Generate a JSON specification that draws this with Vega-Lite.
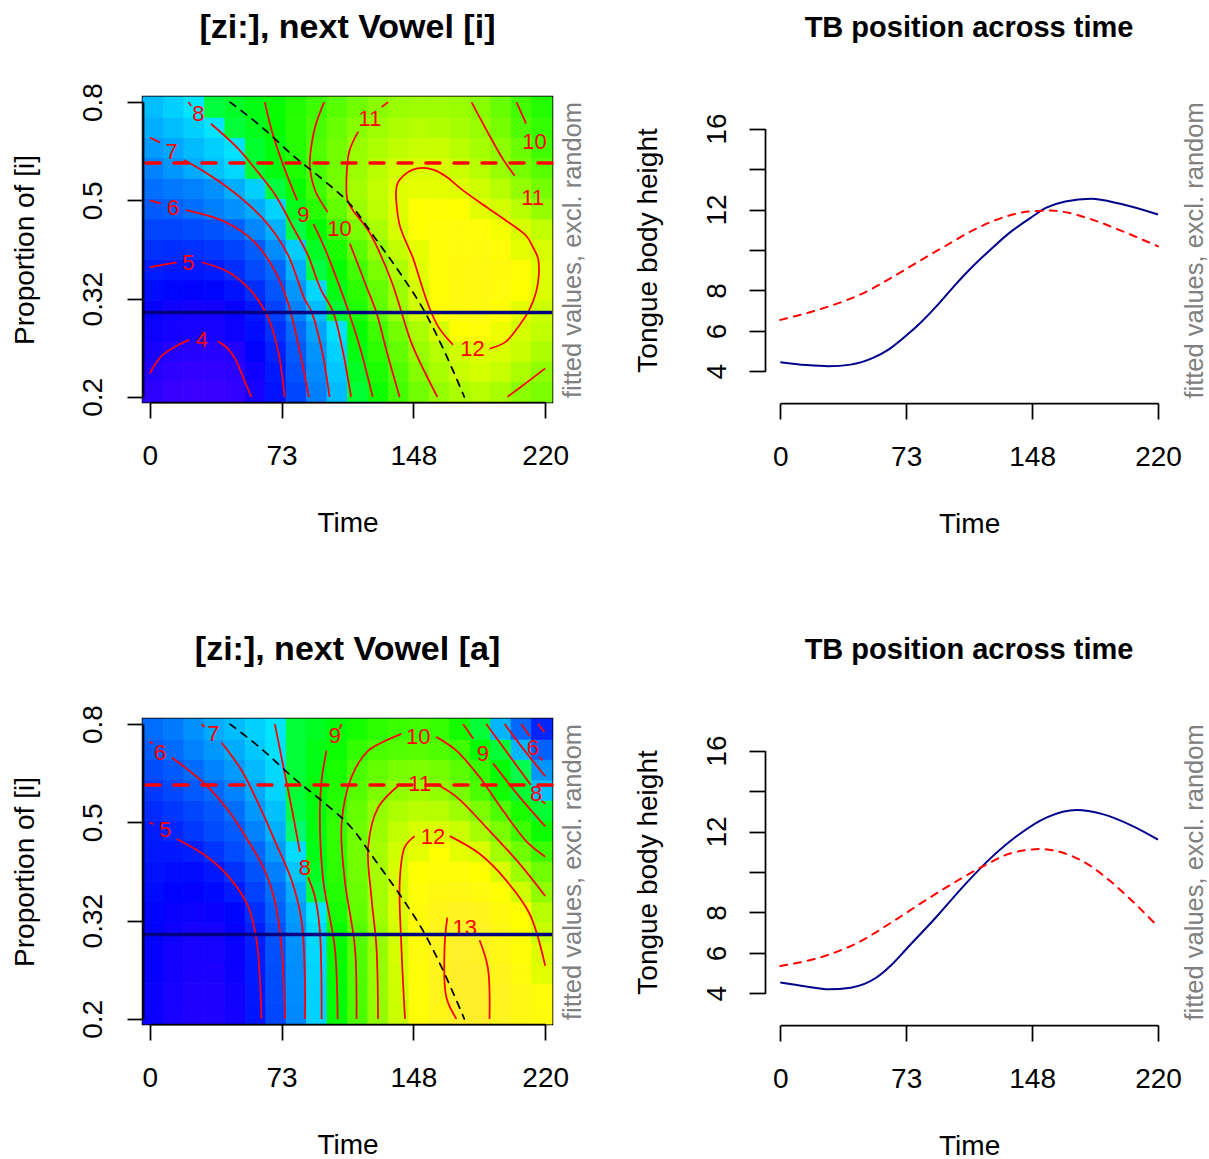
{
"$schema":"https://vega.github.io/schema/vega-lite/v6.json",
"background":"white",
"padding":{"left":9,"top":9,"right":0,"bottom":0},
"config":{"font":"Liberation Sans","view":{"stroke":null},
"axis":{"grid":false,"domainColor":"black","tickColor":"black","labelColor":"black","titleColor":"black","domainWidth":1.75,"tickWidth":1.75,"tickSize":16,"labelFontSize":28,"titleFontSize":28,"titleFontWeight":"normal","labelFont":"Liberation Sans","titleFont":"Liberation Sans","labelFlush":false,"labelOverlap":false},
"title":{"font":"Liberation Sans","color":"black"},"text":{"font":"Liberation Sans"}},
"datasets":{
"h1":[
{"t":2,"u":0.05,"v":3.85},{"t":13,"u":0.05,"v":3.72},{"t":25,"u":0.05,"v":3.65},{"t":36,"u":0.05,"v":3.68},{"t":47,"u":0.05,"v":3.8},{"t":59,"u":0.05,"v":4.2},{"t":70,"u":0.05,"v":4.8},{"t":82,"u":0.05,"v":5.6},{"t":93,"u":0.05,"v":6.45},{"t":104,"u":0.05,"v":7.37},{"t":116,"u":0.05,"v":8.38},{"t":127,"u":0.05,"v":9.24},{"t":138,"u":0.05,"v":9.96},{"t":150,"u":0.05,"v":10.55},{"t":161,"u":0.05,"v":11.05},{"t":173,"u":0.05,"v":11.35},{"t":184,"u":0.05,"v":11.45},{"t":195,"u":0.05,"v":11.3},{"t":207,"u":0.05,"v":10.9},{"t":218,"u":0.05,"v":10.7},
{"t":2,"u":0.26,"v":4.0},{"t":13,"u":0.26,"v":3.85},{"t":25,"u":0.26,"v":3.78},{"t":36,"u":0.26,"v":3.8},{"t":47,"u":0.26,"v":3.9},{"t":59,"u":0.26,"v":4.33},{"t":70,"u":0.26,"v":4.91},{"t":82,"u":0.26,"v":5.75},{"t":93,"u":0.26,"v":6.62},{"t":104,"u":0.26,"v":7.54},{"t":116,"u":0.26,"v":8.6},{"t":127,"u":0.26,"v":9.45},{"t":138,"u":0.26,"v":10.16},{"t":150,"u":0.26,"v":10.83},{"t":161,"u":0.26,"v":11.3},{"t":173,"u":0.26,"v":11.7},{"t":184,"u":0.26,"v":11.85},{"t":195,"u":0.26,"v":11.7},{"t":207,"u":0.26,"v":11.35},{"t":218,"u":0.26,"v":10.98},
{"t":2,"u":0.47,"v":4.18},{"t":13,"u":0.47,"v":4.02},{"t":25,"u":0.47,"v":3.95},{"t":36,"u":0.47,"v":3.95},{"t":47,"u":0.47,"v":4.05},{"t":59,"u":0.47,"v":4.57},{"t":70,"u":0.47,"v":5.02},{"t":82,"u":0.47,"v":5.9},{"t":93,"u":0.47,"v":6.78},{"t":104,"u":0.47,"v":7.72},{"t":116,"u":0.47,"v":8.86},{"t":127,"u":0.47,"v":9.66},{"t":138,"u":0.47,"v":10.39},{"t":150,"u":0.47,"v":11.08},{"t":161,"u":0.47,"v":11.45},{"t":173,"u":0.47,"v":11.8},{"t":184,"u":0.47,"v":11.97},{"t":195,"u":0.47,"v":11.9},{"t":207,"u":0.47,"v":11.7},{"t":218,"u":0.47,"v":11.35},
{"t":2,"u":0.67,"v":4.35},{"t":13,"u":0.67,"v":4.25},{"t":25,"u":0.67,"v":4.2},{"t":36,"u":0.67,"v":4.22},{"t":47,"u":0.67,"v":4.35},{"t":59,"u":0.67,"v":4.72},{"t":70,"u":0.67,"v":5.26},{"t":82,"u":0.67,"v":6.1},{"t":93,"u":0.67,"v":7.02},{"t":104,"u":0.67,"v":7.94},{"t":116,"u":0.67,"v":9.13},{"t":127,"u":0.67,"v":9.87},{"t":138,"u":0.67,"v":10.62},{"t":150,"u":0.67,"v":11.32},{"t":161,"u":0.67,"v":11.86},{"t":173,"u":0.67,"v":12.2},{"t":184,"u":0.67,"v":12.3},{"t":195,"u":0.67,"v":12.12},{"t":207,"u":0.67,"v":11.85},{"t":218,"u":0.67,"v":11.6},
{"t":2,"u":0.88,"v":4.43},{"t":13,"u":0.88,"v":4.33},{"t":25,"u":0.88,"v":4.26},{"t":36,"u":0.88,"v":4.29},{"t":47,"u":0.88,"v":4.45},{"t":59,"u":0.88,"v":4.86},{"t":70,"u":0.88,"v":5.54},{"t":82,"u":0.88,"v":6.5},{"t":93,"u":0.88,"v":7.4},{"t":104,"u":0.88,"v":8.44},{"t":116,"u":0.88,"v":9.5},{"t":127,"u":0.88,"v":10.35},{"t":138,"u":0.88,"v":11.12},{"t":150,"u":0.88,"v":11.8},{"t":161,"u":0.88,"v":12.26},{"t":173,"u":0.88,"v":12.5},{"t":184,"u":0.88,"v":12.5},{"t":195,"u":0.88,"v":12.33},{"t":207,"u":0.88,"v":12.06},{"t":218,"u":0.88,"v":11.76},
{"t":2,"u":1.09,"v":4.72},{"t":13,"u":1.09,"v":4.62},{"t":25,"u":1.09,"v":4.57},{"t":36,"u":1.09,"v":4.62},{"t":47,"u":1.09,"v":4.8},{"t":59,"u":1.09,"v":5.21},{"t":70,"u":1.09,"v":5.79},{"t":82,"u":1.09,"v":6.79},{"t":93,"u":1.09,"v":7.79},{"t":104,"u":1.09,"v":8.8},{"t":116,"u":1.09,"v":9.65},{"t":127,"u":1.09,"v":10.4},{"t":138,"u":1.09,"v":11.14},{"t":150,"u":1.09,"v":11.86},{"t":161,"u":1.09,"v":12.25},{"t":173,"u":1.09,"v":12.5},{"t":184,"u":1.09,"v":12.55},{"t":195,"u":1.09,"v":12.42},{"t":207,"u":1.09,"v":12.18},{"t":218,"u":1.09,"v":11.97},
{"t":2,"u":1.29,"v":4.95},{"t":13,"u":1.29,"v":4.9},{"t":25,"u":1.29,"v":4.88},{"t":36,"u":1.29,"v":4.95},{"t":47,"u":1.29,"v":5.21},{"t":59,"u":1.29,"v":5.64},{"t":70,"u":1.29,"v":6.07},{"t":82,"u":1.29,"v":7.17},{"t":93,"u":1.29,"v":8.17},{"t":104,"u":1.29,"v":9.13},{"t":116,"u":1.29,"v":9.93},{"t":127,"u":1.29,"v":10.68},{"t":138,"u":1.29,"v":11.37},{"t":150,"u":1.29,"v":12.03},{"t":161,"u":1.29,"v":12.3},{"t":173,"u":1.29,"v":12.5},{"t":184,"u":1.29,"v":12.55},{"t":195,"u":1.29,"v":12.45},{"t":207,"u":1.29,"v":12.25},{"t":218,"u":1.29,"v":11.98},
{"t":2,"u":1.5,"v":5.25},{"t":13,"u":1.5,"v":5.22},{"t":25,"u":1.5,"v":5.25},{"t":36,"u":1.5,"v":5.35},{"t":47,"u":1.5,"v":5.55},{"t":59,"u":1.5,"v":5.92},{"t":70,"u":1.5,"v":6.64},{"t":82,"u":1.5,"v":7.62},{"t":93,"u":1.5,"v":8.59},{"t":104,"u":1.5,"v":9.46},{"t":116,"u":1.5,"v":10.3},{"t":127,"u":1.5,"v":11.03},{"t":138,"u":1.5,"v":11.64},{"t":150,"u":1.5,"v":12.1},{"t":161,"u":1.5,"v":12.33},{"t":173,"u":1.5,"v":12.47},{"t":184,"u":1.5,"v":12.48},{"t":195,"u":1.5,"v":12.35},{"t":207,"u":1.5,"v":12.1},{"t":218,"u":1.5,"v":11.9},
{"t":2,"u":1.71,"v":5.57},{"t":13,"u":1.71,"v":5.57},{"t":25,"u":1.71,"v":5.65},{"t":36,"u":1.71,"v":5.78},{"t":47,"u":1.71,"v":5.98},{"t":59,"u":1.71,"v":6.58},{"t":70,"u":1.71,"v":7.2},{"t":82,"u":1.71,"v":8.15},{"t":93,"u":1.71,"v":9.05},{"t":104,"u":1.71,"v":9.88},{"t":116,"u":1.71,"v":10.68},{"t":127,"u":1.71,"v":11.32},{"t":138,"u":1.71,"v":11.9},{"t":150,"u":1.71,"v":12.2},{"t":161,"u":1.71,"v":12.35},{"t":173,"u":1.71,"v":12.38},{"t":184,"u":1.71,"v":12.3},{"t":195,"u":1.71,"v":12.13},{"t":207,"u":1.71,"v":11.92},{"t":218,"u":1.71,"v":11.6},
{"t":2,"u":1.91,"v":5.9},{"t":13,"u":1.91,"v":5.97},{"t":25,"u":1.91,"v":6.2},{"t":36,"u":1.91,"v":6.47},{"t":47,"u":1.91,"v":6.75},{"t":59,"u":1.91,"v":7.11},{"t":70,"u":1.91,"v":7.73},{"t":82,"u":1.91,"v":8.73},{"t":93,"u":1.91,"v":9.61},{"t":104,"u":1.91,"v":10.39},{"t":116,"u":1.91,"v":11.13},{"t":127,"u":1.91,"v":11.55},{"t":138,"u":1.91,"v":12.0},{"t":150,"u":1.91,"v":12.2},{"t":161,"u":1.91,"v":12.25},{"t":173,"u":1.91,"v":12.18},{"t":184,"u":1.91,"v":12.05},{"t":195,"u":1.91,"v":11.85},{"t":207,"u":1.91,"v":11.5},{"t":218,"u":1.91,"v":11.05},
{"t":2,"u":2.12,"v":6.22},{"t":13,"u":2.12,"v":6.35},{"t":25,"u":2.12,"v":6.5},{"t":36,"u":2.12,"v":6.7},{"t":47,"u":2.12,"v":7.15},{"t":59,"u":2.12,"v":7.66},{"t":70,"u":2.12,"v":8.23},{"t":82,"u":2.12,"v":9.17},{"t":93,"u":2.12,"v":9.93},{"t":104,"u":2.12,"v":10.65},{"t":116,"u":2.12,"v":11.23},{"t":127,"u":2.12,"v":11.62},{"t":138,"u":2.12,"v":12.0},{"t":150,"u":2.12,"v":12.1},{"t":161,"u":2.12,"v":12.08},{"t":173,"u":2.12,"v":12.0},{"t":184,"u":2.12,"v":11.78},{"t":195,"u":2.12,"v":11.48},{"t":207,"u":2.12,"v":11.02},{"t":218,"u":2.12,"v":10.62},
{"t":2,"u":2.33,"v":6.48},{"t":13,"u":2.33,"v":6.8},{"t":25,"u":2.33,"v":7.1},{"t":36,"u":2.33,"v":7.45},{"t":47,"u":2.33,"v":7.8},{"t":59,"u":2.33,"v":8.35},{"t":70,"u":2.33,"v":8.88},{"t":82,"u":2.33,"v":9.5},{"t":93,"u":2.33,"v":10.05},{"t":104,"u":2.33,"v":10.6},{"t":116,"u":2.33,"v":11.12},{"t":127,"u":2.33,"v":11.52},{"t":138,"u":2.33,"v":11.8},{"t":150,"u":2.33,"v":11.95},{"t":161,"u":2.33,"v":11.94},{"t":173,"u":2.33,"v":11.72},{"t":184,"u":2.33,"v":11.45},{"t":195,"u":2.33,"v":11.08},{"t":207,"u":2.33,"v":10.65},{"t":218,"u":2.33,"v":10.25},
{"t":2,"u":2.54,"v":6.88},{"t":13,"u":2.54,"v":7.05},{"t":25,"u":2.54,"v":7.36},{"t":36,"u":2.54,"v":7.65},{"t":47,"u":2.54,"v":7.95},{"t":59,"u":2.54,"v":8.45},{"t":70,"u":2.54,"v":8.95},{"t":82,"u":2.54,"v":9.58},{"t":93,"u":2.54,"v":10.14},{"t":104,"u":2.54,"v":10.6},{"t":116,"u":2.54,"v":11.08},{"t":127,"u":2.54,"v":11.35},{"t":138,"u":2.54,"v":11.58},{"t":150,"u":2.54,"v":11.7},{"t":161,"u":2.54,"v":11.7},{"t":173,"u":2.54,"v":11.5},{"t":184,"u":2.54,"v":11.25},{"t":195,"u":2.54,"v":10.95},{"t":207,"u":2.54,"v":10.5},{"t":218,"u":2.54,"v":9.95},
{"t":2,"u":2.74,"v":7.17},{"t":13,"u":2.74,"v":7.4},{"t":25,"u":2.74,"v":7.68},{"t":36,"u":2.74,"v":7.98},{"t":47,"u":2.74,"v":8.34},{"t":59,"u":2.74,"v":8.72},{"t":70,"u":2.74,"v":9.08},{"t":82,"u":2.74,"v":9.57},{"t":93,"u":2.74,"v":10.02},{"t":104,"u":2.74,"v":10.45},{"t":116,"u":2.74,"v":10.88},{"t":127,"u":2.74,"v":11.15},{"t":138,"u":2.74,"v":11.35},{"t":150,"u":2.74,"v":11.45},{"t":161,"u":2.74,"v":11.4},{"t":173,"u":2.74,"v":11.25},{"t":184,"u":2.74,"v":11.07},{"t":195,"u":2.74,"v":10.65},{"t":207,"u":2.74,"v":10.13},{"t":218,"u":2.74,"v":9.75},
{"t":2,"u":2.95,"v":7.4},{"t":13,"u":2.95,"v":7.68},{"t":25,"u":2.95,"v":8.0},{"t":36,"u":2.95,"v":8.28},{"t":47,"u":2.95,"v":8.55},{"t":59,"u":2.95,"v":8.85},{"t":70,"u":2.95,"v":9.17},{"t":82,"u":2.95,"v":9.55},{"t":93,"u":2.95,"v":9.9},{"t":104,"u":2.95,"v":10.25},{"t":116,"u":2.95,"v":10.57},{"t":127,"u":2.95,"v":10.9},{"t":138,"u":2.95,"v":11.08},{"t":150,"u":2.95,"v":11.18},{"t":161,"u":2.95,"v":11.18},{"t":173,"u":2.95,"v":11.1},{"t":184,"u":2.95,"v":10.88},{"t":195,"u":2.95,"v":10.45},{"t":207,"u":2.95,"v":9.95},{"t":218,"u":2.95,"v":9.55}
],
"h2":[
{"t":2,"u":0.05,"v":4.38},{"t":13,"u":0.05,"v":4.2},{"t":25,"u":0.05,"v":4.08},{"t":36,"u":0.05,"v":4.1},{"t":47,"u":0.05,"v":4.3},{"t":59,"u":0.05,"v":4.85},{"t":70,"u":0.05,"v":5.6},{"t":82,"u":0.05,"v":6.61},{"t":93,"u":0.05,"v":7.72},{"t":104,"u":0.05,"v":9.0},{"t":116,"u":0.05,"v":10.08},{"t":127,"u":0.05,"v":11.0},{"t":138,"u":0.05,"v":11.73},{"t":150,"u":0.05,"v":12.29},{"t":161,"u":0.05,"v":12.7},{"t":173,"u":0.05,"v":13.1},{"t":184,"u":0.05,"v":13.12},{"t":195,"u":0.05,"v":12.85},{"t":207,"u":0.05,"v":12.6},{"t":218,"u":0.05,"v":12.4},
{"t":2,"u":0.26,"v":4.42},{"t":13,"u":0.26,"v":4.22},{"t":25,"u":0.26,"v":4.1},{"t":36,"u":0.26,"v":4.12},{"t":47,"u":0.26,"v":4.32},{"t":59,"u":0.26,"v":4.88},{"t":70,"u":0.26,"v":5.65},{"t":82,"u":0.26,"v":6.64},{"t":93,"u":0.26,"v":7.72},{"t":104,"u":0.26,"v":9.02},{"t":116,"u":0.26,"v":10.1},{"t":127,"u":0.26,"v":11.03},{"t":138,"u":0.26,"v":11.78},{"t":150,"u":0.26,"v":12.3},{"t":161,"u":0.26,"v":12.75},{"t":173,"u":0.26,"v":13.15},{"t":184,"u":0.26,"v":13.15},{"t":195,"u":0.26,"v":12.88},{"t":207,"u":0.26,"v":12.6},{"t":218,"u":0.26,"v":12.35},
{"t":2,"u":0.47,"v":4.47},{"t":13,"u":0.47,"v":4.28},{"t":25,"u":0.47,"v":4.15},{"t":36,"u":0.47,"v":4.17},{"t":47,"u":0.47,"v":4.38},{"t":59,"u":0.47,"v":4.93},{"t":70,"u":0.47,"v":5.7},{"t":82,"u":0.47,"v":6.67},{"t":93,"u":0.47,"v":7.76},{"t":104,"u":0.47,"v":9.05},{"t":116,"u":0.47,"v":10.13},{"t":127,"u":0.47,"v":11.04},{"t":138,"u":0.47,"v":11.82},{"t":150,"u":0.47,"v":12.33},{"t":161,"u":0.47,"v":12.8},{"t":173,"u":0.47,"v":13.15},{"t":184,"u":0.47,"v":13.12},{"t":195,"u":0.47,"v":12.75},{"t":207,"u":0.47,"v":12.4},{"t":218,"u":0.47,"v":12.05},
{"t":2,"u":0.67,"v":4.5},{"t":13,"u":0.67,"v":4.3},{"t":25,"u":0.67,"v":4.2},{"t":36,"u":0.67,"v":4.22},{"t":47,"u":0.67,"v":4.42},{"t":59,"u":0.67,"v":4.95},{"t":70,"u":0.67,"v":5.75},{"t":82,"u":0.67,"v":6.72},{"t":93,"u":0.67,"v":7.8},{"t":104,"u":0.67,"v":9.08},{"t":116,"u":0.67,"v":10.15},{"t":127,"u":0.67,"v":11.05},{"t":138,"u":0.67,"v":11.85},{"t":150,"u":0.67,"v":12.4},{"t":161,"u":0.67,"v":12.86},{"t":173,"u":0.67,"v":13.1},{"t":184,"u":0.67,"v":13.03},{"t":195,"u":0.67,"v":12.65},{"t":207,"u":0.67,"v":12.3},{"t":218,"u":0.67,"v":12.0},
{"t":2,"u":0.88,"v":4.52},{"t":13,"u":0.88,"v":4.35},{"t":25,"u":0.88,"v":4.22},{"t":36,"u":0.88,"v":4.25},{"t":47,"u":0.88,"v":4.47},{"t":59,"u":0.88,"v":5.0},{"t":70,"u":0.88,"v":5.79},{"t":82,"u":0.88,"v":6.77},{"t":93,"u":0.88,"v":7.84},{"t":104,"u":0.88,"v":9.17},{"t":116,"u":0.88,"v":10.21},{"t":127,"u":0.88,"v":11.08},{"t":138,"u":0.88,"v":11.87},{"t":150,"u":0.88,"v":12.4},{"t":161,"u":0.88,"v":12.85},{"t":173,"u":0.88,"v":13.05},{"t":184,"u":0.88,"v":12.97},{"t":195,"u":0.88,"v":12.58},{"t":207,"u":0.88,"v":12.18},{"t":218,"u":0.88,"v":11.7},
{"t":2,"u":1.09,"v":4.6},{"t":13,"u":1.09,"v":4.45},{"t":25,"u":1.09,"v":4.35},{"t":36,"u":1.09,"v":4.4},{"t":47,"u":1.09,"v":4.62},{"t":59,"u":1.09,"v":5.22},{"t":70,"u":1.09,"v":5.97},{"t":82,"u":1.09,"v":6.9},{"t":93,"u":1.09,"v":7.99},{"t":104,"u":1.09,"v":9.38},{"t":116,"u":1.09,"v":10.38},{"t":127,"u":1.09,"v":11.2},{"t":138,"u":1.09,"v":11.93},{"t":150,"u":1.09,"v":12.38},{"t":161,"u":1.09,"v":12.73},{"t":173,"u":1.09,"v":12.92},{"t":184,"u":1.09,"v":12.8},{"t":195,"u":1.09,"v":12.45},{"t":207,"u":1.09,"v":12.2},{"t":218,"u":1.09,"v":11.5},
{"t":2,"u":1.29,"v":4.7},{"t":13,"u":1.29,"v":4.58},{"t":25,"u":1.29,"v":4.52},{"t":36,"u":1.29,"v":4.68},{"t":47,"u":1.29,"v":4.93},{"t":59,"u":1.29,"v":5.5},{"t":70,"u":1.29,"v":6.16},{"t":82,"u":1.29,"v":7.14},{"t":93,"u":1.29,"v":8.23},{"t":104,"u":1.29,"v":9.54},{"t":116,"u":1.29,"v":10.48},{"t":127,"u":1.29,"v":11.24},{"t":138,"u":1.29,"v":11.92},{"t":150,"u":1.29,"v":12.3},{"t":161,"u":1.29,"v":12.55},{"t":173,"u":1.29,"v":12.62},{"t":184,"u":1.29,"v":12.48},{"t":195,"u":1.29,"v":12.2},{"t":207,"u":1.29,"v":11.8},{"t":218,"u":1.29,"v":11.0},
{"t":2,"u":1.5,"v":4.8},{"t":13,"u":1.5,"v":4.72},{"t":25,"u":1.5,"v":4.72},{"t":36,"u":1.5,"v":4.88},{"t":47,"u":1.5,"v":5.27},{"t":59,"u":1.5,"v":5.78},{"t":70,"u":1.5,"v":6.46},{"t":82,"u":1.5,"v":7.51},{"t":93,"u":1.5,"v":8.65},{"t":104,"u":1.5,"v":9.65},{"t":116,"u":1.5,"v":10.55},{"t":127,"u":1.5,"v":11.26},{"t":138,"u":1.5,"v":11.9},{"t":150,"u":1.5,"v":12.18},{"t":161,"u":1.5,"v":12.33},{"t":173,"u":1.5,"v":12.32},{"t":184,"u":1.5,"v":12.15},{"t":195,"u":1.5,"v":11.95},{"t":207,"u":1.5,"v":11.15},{"t":218,"u":1.5,"v":10.55},
{"t":2,"u":1.71,"v":4.88},{"t":13,"u":1.71,"v":4.9},{"t":25,"u":1.71,"v":4.98},{"t":36,"u":1.71,"v":5.31},{"t":47,"u":1.71,"v":5.66},{"t":59,"u":1.71,"v":6.08},{"t":70,"u":1.71,"v":6.86},{"t":82,"u":1.71,"v":7.86},{"t":93,"u":1.71,"v":8.79},{"t":104,"u":1.71,"v":9.71},{"t":116,"u":1.71,"v":10.6},{"t":127,"u":1.71,"v":11.27},{"t":138,"u":1.71,"v":11.82},{"t":150,"u":1.71,"v":12.08},{"t":161,"u":1.71,"v":12.15},{"t":173,"u":1.71,"v":12.08},{"t":184,"u":1.71,"v":11.95},{"t":195,"u":1.71,"v":11.2},{"t":207,"u":1.71,"v":10.55},{"t":218,"u":1.71,"v":9.9},
{"t":2,"u":1.91,"v":4.96},{"t":13,"u":1.91,"v":5.12},{"t":25,"u":1.91,"v":5.39},{"t":36,"u":1.91,"v":5.65},{"t":47,"u":1.91,"v":5.9},{"t":59,"u":1.91,"v":6.49},{"t":70,"u":1.91,"v":7.2},{"t":82,"u":1.91,"v":8.04},{"t":93,"u":1.91,"v":8.85},{"t":104,"u":1.91,"v":9.76},{"t":116,"u":1.91,"v":10.54},{"t":127,"u":1.91,"v":11.12},{"t":138,"u":1.91,"v":11.6},{"t":150,"u":1.91,"v":11.9},{"t":161,"u":1.91,"v":11.95},{"t":173,"u":1.91,"v":11.72},{"t":184,"u":1.91,"v":11.25},{"t":195,"u":1.91,"v":10.7},{"t":207,"u":1.91,"v":9.9},{"t":218,"u":1.91,"v":9.2},
{"t":2,"u":2.12,"v":5.17},{"t":13,"u":2.12,"v":5.37},{"t":25,"u":2.12,"v":5.6},{"t":36,"u":2.12,"v":5.82},{"t":47,"u":2.12,"v":6.18},{"t":59,"u":2.12,"v":6.83},{"t":70,"u":2.12,"v":7.46},{"t":82,"u":2.12,"v":8.18},{"t":93,"u":2.12,"v":8.89},{"t":104,"u":2.12,"v":9.68},{"t":116,"u":2.12,"v":10.42},{"t":127,"u":2.12,"v":11.02},{"t":138,"u":2.12,"v":11.35},{"t":150,"u":2.12,"v":11.52},{"t":161,"u":2.12,"v":11.45},{"t":173,"u":2.12,"v":11.18},{"t":184,"u":2.12,"v":10.75},{"t":195,"u":2.12,"v":10.1},{"t":207,"u":2.12,"v":9.4},{"t":218,"u":2.12,"v":8.4},
{"t":2,"u":2.33,"v":5.38},{"t":13,"u":2.33,"v":5.63},{"t":25,"u":2.33,"v":5.87},{"t":36,"u":2.33,"v":6.1},{"t":47,"u":2.33,"v":6.5},{"t":59,"u":2.33,"v":7.08},{"t":70,"u":2.33,"v":7.75},{"t":82,"u":2.33,"v":8.4},{"t":93,"u":2.33,"v":9.0},{"t":104,"u":2.33,"v":9.55},{"t":116,"u":2.33,"v":10.2},{"t":127,"u":2.33,"v":10.7},{"t":138,"u":2.33,"v":11.0},{"t":150,"u":2.33,"v":11.12},{"t":161,"u":2.33,"v":11.0},{"t":173,"u":2.33,"v":10.65},{"t":184,"u":2.33,"v":10.05},{"t":195,"u":2.33,"v":9.3},{"t":207,"u":2.33,"v":8.4},{"t":218,"u":2.33,"v":7.45},
{"t":2,"u":2.54,"v":5.7},{"t":13,"u":2.54,"v":5.88},{"t":25,"u":2.54,"v":6.15},{"t":36,"u":2.54,"v":6.51},{"t":47,"u":2.54,"v":6.87},{"t":59,"u":2.54,"v":7.34},{"t":70,"u":2.54,"v":7.8},{"t":82,"u":2.54,"v":8.34},{"t":93,"u":2.54,"v":8.84},{"t":104,"u":2.54,"v":9.4},{"t":116,"u":2.54,"v":10.05},{"t":127,"u":2.54,"v":10.4},{"t":138,"u":2.54,"v":10.65},{"t":150,"u":2.54,"v":10.75},{"t":161,"u":2.54,"v":10.6},{"t":173,"u":2.54,"v":10.3},{"t":184,"u":2.54,"v":9.8},{"t":195,"u":2.54,"v":9.0},{"t":207,"u":2.54,"v":8.05},{"t":218,"u":2.54,"v":6.8},
{"t":2,"u":2.74,"v":5.92},{"t":13,"u":2.74,"v":6.15},{"t":25,"u":2.74,"v":6.5},{"t":36,"u":2.74,"v":6.83},{"t":47,"u":2.74,"v":7.14},{"t":59,"u":2.74,"v":7.54},{"t":70,"u":2.74,"v":7.92},{"t":82,"u":2.74,"v":8.34},{"t":93,"u":2.74,"v":8.79},{"t":104,"u":2.74,"v":9.2},{"t":116,"u":2.74,"v":9.73},{"t":127,"u":2.74,"v":10.05},{"t":138,"u":2.74,"v":10.15},{"t":150,"u":2.74,"v":10.2},{"t":161,"u":2.74,"v":10.12},{"t":173,"u":2.74,"v":9.9},{"t":184,"u":2.74,"v":9.05},{"t":195,"u":2.74,"v":8.35},{"t":207,"u":2.74,"v":7.3},{"t":218,"u":2.74,"v":6.0},
{"t":2,"u":2.95,"v":6.18},{"t":13,"u":2.95,"v":6.4},{"t":25,"u":2.95,"v":6.75},{"t":36,"u":2.95,"v":7.12},{"t":47,"u":2.95,"v":7.4},{"t":59,"u":2.95,"v":7.7},{"t":70,"u":2.95,"v":8.0},{"t":82,"u":2.95,"v":8.35},{"t":93,"u":2.95,"v":8.65},{"t":104,"u":2.95,"v":8.95},{"t":116,"u":2.95,"v":9.35},{"t":127,"u":2.95,"v":9.65},{"t":138,"u":2.95,"v":9.85},{"t":150,"u":2.95,"v":9.92},{"t":161,"u":2.95,"v":9.78},{"t":173,"u":2.95,"v":9.3},{"t":184,"u":2.95,"v":8.35},{"t":195,"u":2.95,"v":7.3},{"t":207,"u":2.95,"v":6.1},{"t":218,"u":2.95,"v":5.1}
],
"c1":[
{"g":"a","o":0,"t":0,"u":0.24},{"g":"a","o":1,"t":6.7,"u":0.42},{"g":"a","o":2,"t":16,"u":0.53},{"g":"a","o":3,"t":22,"u":0.58},
{"g":"b","o":0,"t":38,"u":0.565},{"g":"b","o":1,"t":43,"u":0.5},{"g":"b","o":2,"t":47.4,"u":0.39},{"g":"b","o":3,"t":53,"u":0.15},{"g":"b","o":4,"t":56.5,"u":0},
{"g":"c","o":0,"t":0,"u":1.32},{"g":"c","o":1,"t":15,"u":1.37},
{"g":"d","o":0,"t":28.9,"u":1.37},{"g":"d","o":1,"t":43.7,"u":1.27},{"g":"d","o":2,"t":56.7,"u":1.07},{"g":"d","o":3,"t":66,"u":0.8},{"g":"d","o":4,"t":71.5,"u":0.46},{"g":"d","o":5,"t":75,"u":0},
{"g":"e","o":0,"t":0,"u":2.0},{"g":"e","o":1,"t":6,"u":1.97},
{"g":"f","o":0,"t":20,"u":1.9},{"g":"f","o":1,"t":42,"u":1.78},{"g":"f","o":2,"t":58,"u":1.58},{"g":"f","o":3,"t":70,"u":1.27},{"g":"f","o":4,"t":77,"u":0.95},{"g":"f","o":5,"t":83,"u":0.5},{"g":"f","o":6,"t":88.5,"u":0},
{"g":"g","o":0,"t":0,"u":2.64},{"g":"g","o":1,"t":5.6,"u":2.59},
{"g":"h","o":0,"t":19,"u":2.41},{"g":"h","o":1,"t":33,"u":2.26},{"g":"h","o":2,"t":51,"u":2.02},{"g":"h","o":3,"t":66,"u":1.75},{"g":"h","o":4,"t":77,"u":1.44},{"g":"h","o":5,"t":86,"u":1.0},{"g":"h","o":6,"t":90,"u":0.865},{"g":"h","o":7,"t":96,"u":0.45},{"g":"h","o":8,"t":100,"u":0},
{"g":"i","o":0,"t":34,"u":2.78},{"g":"i","o":1,"t":49,"u":2.53},{"g":"i","o":2,"t":60,"u":2.29},{"g":"i","o":3,"t":70,"u":2.05},{"g":"i","o":4,"t":79,"u":1.75},{"g":"i","o":5,"t":88,"u":1.44},{"g":"i","o":6,"t":95,"u":1.1},{"g":"i","o":7,"t":102,"u":0.865},{"g":"i","o":8,"t":107,"u":0.5},{"g":"i","o":9,"t":112,"u":0},
{"g":"j","o":0,"t":21.5,"u":3.0},{"g":"j","o":1,"t":23,"u":2.96},
{"g":"k","o":0,"t":64,"u":3.0},{"g":"k","o":1,"t":68,"u":2.7},{"g":"k","o":2,"t":73,"u":2.42},{"g":"k","o":3,"t":78,"u":2.18},{"g":"k","o":4,"t":82,"u":2.0},
{"g":"l","o":0,"t":91,"u":1.76},{"g":"l","o":1,"t":97.4,"u":1.51},{"g":"l","o":2,"t":103,"u":1.25},{"g":"l","o":3,"t":110,"u":0.9},{"g":"l","o":4,"t":117,"u":0.5},{"g":"l","o":5,"t":124,"u":0},
{"g":"m","o":0,"t":97,"u":3.0},{"g":"m","o":1,"t":92,"u":2.75},{"g":"m","o":2,"t":89.5,"u":2.5},{"g":"m","o":3,"t":89,"u":2.36},{"g":"m","o":4,"t":92,"u":2.1},{"g":"m","o":5,"t":99,"u":1.88},
{"g":"n","o":0,"t":111.3,"u":1.56},{"g":"n","o":1,"t":116,"u":1.34},{"g":"n","o":2,"t":121,"u":1.1},{"g":"n","o":3,"t":126,"u":0.865},{"g":"n","o":4,"t":132,"u":0.45},{"g":"n","o":5,"t":139,"u":0},
{"g":"p","o":0,"t":132.6,"u":3.0},{"g":"p","o":1,"t":129,"u":2.95},
{"g":"q","o":0,"t":116,"u":2.7},{"g":"q","o":1,"t":111,"u":2.5},{"g":"q","o":2,"t":109.4,"u":2.2},{"g":"q","o":3,"t":110,"u":2.0},{"g":"q","o":4,"t":113,"u":1.9},{"g":"q","o":5,"t":122,"u":1.68},{"g":"q","o":6,"t":134,"u":1.2},{"g":"q","o":7,"t":140,"u":0.865},{"g":"q","o":8,"t":146,"u":0.53},{"g":"q","o":9,"t":160,"u":0},
{"g":"r","o":0,"t":189,"u":0.49},{"g":"r","o":1,"t":198,"u":0.56},{"g":"r","o":2,"t":205.7,"u":0.73},{"g":"r","o":3,"t":211,"u":0.88},{"g":"r","o":4,"t":215,"u":1.07},{"g":"r","o":5,"t":216.5,"u":1.25},{"g":"r","o":6,"t":216,"u":1.41},{"g":"r","o":7,"t":213,"u":1.53},{"g":"r","o":8,"t":209.4,"u":1.64},{"g":"r","o":9,"t":197,"u":1.81},{"g":"r","o":10,"t":183.5,"u":1.98},{"g":"r","o":11,"t":173,"u":2.12},{"g":"r","o":12,"t":165,"u":2.24},{"g":"r","o":13,"t":158,"u":2.31},{"g":"r","o":14,"t":152,"u":2.33},{"g":"r","o":15,"t":146,"u":2.31},{"g":"r","o":16,"t":141,"u":2.25},{"g":"r","o":17,"t":138,"u":2.18},{"g":"r","o":18,"t":137,"u":2.09},{"g":"r","o":19,"t":137.5,"u":1.92},{"g":"r","o":20,"t":139,"u":1.75},{"g":"r","o":21,"t":142,"u":1.6},{"g":"r","o":22,"t":146.5,"u":1.41},{"g":"r","o":23,"t":151,"u":1.15},{"g":"r","o":24,"t":155.7,"u":0.9},{"g":"r","o":25,"t":161,"u":0.7},{"g":"r","o":26,"t":168.7,"u":0.53},
{"g":"s","o":0,"t":179,"u":3.0},{"g":"s","o":1,"t":189,"u":2.66},{"g":"s","o":2,"t":196.5,"u":2.42},{"g":"s","o":3,"t":203,"u":2.25},
{"g":"w","o":0,"t":204,"u":3.0},{"g":"w","o":1,"t":209.4,"u":2.78},
{"g":"x","o":0,"t":199,"u":0},{"g":"x","o":1,"t":210,"u":0.15},{"g":"x","o":2,"t":220,"u":0.29}
],
"l1":[
{"s":"4","t":29,"u":0.58},{"s":"5","t":21.5,"u":1.36},{"s":"6","t":13,"u":1.92},{"s":"7","t":12.2,"u":2.49},{"s":"8","t":27,"u":2.88},{"s":"9","t":85.5,"u":1.85},{"s":"10","t":105.5,"u":1.71},{"s":"11","t":122.4,"u":2.83},{"s":"12","t":179.5,"u":0.49},{"s":"11","t":213,"u":2.02},{"s":"10","t":214,"u":2.59}
],
"c2":[
{"g":"a","o":0,"t":0,"u":2.0},{"g":"a","o":1,"t":2,"u":1.98},
{"g":"b","o":0,"t":15,"u":1.83},{"g":"b","o":1,"t":32.6,"u":1.64},{"g":"b","o":2,"t":45.6,"u":1.41},{"g":"b","o":3,"t":54.8,"u":1.14},{"g":"b","o":4,"t":59.4,"u":0.8},{"g":"b","o":5,"t":61.3,"u":0.39},{"g":"b","o":6,"t":62.2,"u":0},
{"g":"c","o":0,"t":0,"u":2.82},{"g":"c","o":1,"t":1.5,"u":2.8},
{"g":"d","o":0,"t":12.2,"u":2.66},{"g":"d","o":1,"t":30.7,"u":2.39},{"g":"d","o":2,"t":43.7,"u":2.12},{"g":"d","o":3,"t":54.8,"u":1.81},{"g":"d","o":4,"t":64,"u":1.51},{"g":"d","o":5,"t":69.6,"u":1.2},{"g":"d","o":6,"t":73.3,"u":0.73},{"g":"d","o":7,"t":75.2,"u":0},
{"g":"e","o":0,"t":28.9,"u":3.0},{"g":"e","o":1,"t":30.5,"u":2.97},
{"g":"f","o":0,"t":40,"u":2.81},{"g":"f","o":1,"t":51,"u":2.53},{"g":"f","o":2,"t":60.4,"u":2.19},{"g":"f","o":3,"t":69.6,"u":1.81},{"g":"f","o":4,"t":78.9,"u":1.41},{"g":"f","o":5,"t":84.4,"u":1.0},{"g":"f","o":6,"t":86.3,"u":0.39},{"g":"f","o":7,"t":86.3,"u":0},
{"g":"g","o":0,"t":69.6,"u":3.0},{"g":"g","o":1,"t":73.3,"u":2.66},{"g":"g","o":2,"t":78.9,"u":2.15},{"g":"g","o":3,"t":83.5,"u":1.7},
{"g":"h","o":0,"t":88.1,"u":1.44},{"g":"h","o":1,"t":91.9,"u":1.24},{"g":"h","o":2,"t":94.6,"u":0.9},{"g":"h","o":3,"t":95.6,"u":0},
{"g":"i","o":0,"t":105.5,"u":2.95},{"g":"i","o":1,"t":106.7,"u":3.0},
{"g":"j","o":0,"t":98.3,"u":2.73},{"g":"j","o":1,"t":95.6,"u":2.43},{"g":"j","o":2,"t":94.6,"u":2.09},{"g":"j","o":3,"t":96.5,"u":1.41},{"g":"j","o":4,"t":102.9,"u":0.73},{"g":"j","o":5,"t":104.5,"u":0},
{"g":"k","o":0,"t":140,"u":2.9},{"g":"k","o":1,"t":130,"u":2.82},{"g":"k","o":2,"t":121.5,"u":2.73},{"g":"k","o":3,"t":112.2,"u":2.46},{"g":"k","o":4,"t":106.7,"u":1.98},{"g":"k","o":5,"t":108.5,"u":1.41},{"g":"k","o":6,"t":114.1,"u":0.73},{"g":"k","o":7,"t":115,"u":0},
{"g":"l","o":0,"t":159.4,"u":2.87},{"g":"l","o":1,"t":170.6,"u":2.73},{"g":"l","o":2,"t":183.5,"u":2.46},{"g":"l","o":3,"t":196.5,"u":2.12},{"g":"l","o":4,"t":209.4,"u":1.81},{"g":"l","o":5,"t":220,"u":1.65},
{"g":"m","o":0,"t":138.1,"u":2.37},{"g":"m","o":1,"t":127,"u":2.15},{"g":"m","o":2,"t":121.5,"u":1.75},{"g":"m","o":3,"t":123.3,"u":1.24},{"g":"m","o":4,"t":126.1,"u":0.73},{"g":"m","o":5,"t":127,"u":0},
{"g":"n","o":0,"t":159.4,"u":2.39},{"g":"n","o":1,"t":170.6,"u":2.26},{"g":"n","o":2,"t":187.2,"u":1.95},{"g":"n","o":3,"t":205.7,"u":1.58},{"g":"n","o":4,"t":220,"u":1.25},
{"g":"p","o":0,"t":147.4,"u":1.86},{"g":"p","o":1,"t":141.9,"u":1.75},{"g":"p","o":2,"t":139.1,"u":1.41},{"g":"p","o":3,"t":140,"u":0.73},{"g":"p","o":4,"t":142,"u":0},
{"g":"q","o":0,"t":166.9,"u":1.86},{"g":"q","o":1,"t":183.5,"u":1.68},{"g":"q","o":2,"t":198.3,"u":1.41},{"g":"q","o":3,"t":211.3,"u":1.07},{"g":"q","o":4,"t":220,"u":0.54},
{"g":"r","o":0,"t":165.5,"u":1.03},{"g":"r","o":1,"t":164,"u":0.73},{"g":"r","o":2,"t":165,"u":0.22},{"g":"r","o":3,"t":170.6,"u":0},
{"g":"s","o":0,"t":183.5,"u":0.8},{"g":"s","o":1,"t":188.1,"u":0.52},{"g":"s","o":2,"t":189,"u":0},
{"g":"t","o":0,"t":174.3,"u":3.0},{"g":"t","o":1,"t":180,"u":2.85},
{"g":"v","o":0,"t":191,"u":2.6},{"g":"v","o":1,"t":205.7,"u":2.26},{"g":"v","o":2,"t":220,"u":1.96},
{"g":"w","o":0,"t":187.2,"u":3.0},{"g":"w","o":1,"t":200,"u":2.68},{"g":"w","o":2,"t":212,"u":2.38},
{"g":"x","o":0,"t":218,"u":2.22},{"g":"x","o":1,"t":220,"u":2.19},
{"g":"y","o":0,"t":197.4,"u":3.0},{"g":"y","o":1,"t":209,"u":2.72},{"g":"y","o":2,"t":220,"u":2.47},
{"g":"z","o":0,"t":206.7,"u":3.0},{"g":"z","o":1,"t":211.3,"u":2.88},
{"g":"aa","o":0,"t":216.5,"u":2.67},{"g":"aa","o":1,"t":218.5,"u":2.63},
{"g":"ab","o":0,"t":216,"u":3.0},{"g":"ab","o":1,"t":219.6,"u":2.92}
],
"l2":[
{"s":"5","t":8.5,"u":1.92},{"s":"6","t":5.7,"u":2.71},{"s":"7","t":35.4,"u":2.9},{"s":"8","t":86.3,"u":1.54},{"s":"9","t":103,"u":2.88},{"s":"10","t":149.3,"u":2.87},{"s":"11","t":150.2,"u":2.39},{"s":"12","t":157.6,"u":1.85},{"s":"13","t":175.2,"u":0.93},{"s":"9","t":185.3,"u":2.7},{"s":"8","t":214.9,"u":2.29},{"s":"6","t":213.2,"u":2.76}
],
"d":[
{"o":0,"t":44.6,"u":3.0},{"o":1,"t":62,"u":2.75},{"o":2,"t":80.7,"u":2.44},{"o":3,"t":97,"u":2.2},{"o":4,"t":112,"u":1.95},{"o":5,"t":126,"u":1.6},{"o":6,"t":140,"u":1.24},{"o":7,"t":153,"u":0.865},{"o":8,"t":163,"u":0.5},{"o":9,"t":171.5,"u":0.15},{"o":10,"t":175,"u":0}
],
"hr":[{"u":2.38}],
"hn":[{"u":0.86}],
"r1b":[
{"t":0,"v":4.45},{"t":15,"v":4.31},{"t":28,"v":4.25},{"t":41,"v":4.33},{"t":54,"v":4.66},{"t":63,"v":5.07},{"t":71,"v":5.6},{"t":80,"v":6.26},{"t":91,"v":7.22},{"t":101,"v":8.19},{"t":112,"v":9.18},{"t":123,"v":10.06},{"t":134,"v":10.88},{"t":145,"v":11.54},{"t":155,"v":12.09},{"t":166,"v":12.4},{"t":181,"v":12.53},{"t":198,"v":12.28},{"t":220,"v":11.75}
],
"r1r":[
{"t":0,"v":6.54},{"t":28,"v":7.2},{"t":47.5,"v":7.83},{"t":67,"v":8.74},{"t":80,"v":9.4},{"t":95,"v":10.14},{"t":114,"v":11.05},{"t":132,"v":11.67},{"t":144.5,"v":11.9},{"t":157.5,"v":11.95},{"t":166,"v":11.87},{"t":183,"v":11.46},{"t":200.6,"v":10.88},{"t":220,"v":10.18}
],
"r2b":[
{"t":0,"v":4.53},{"t":15,"v":4.34},{"t":28,"v":4.2},{"t":41,"v":4.28},{"t":56,"v":4.78},{"t":64.7,"v":5.4},{"t":73.3,"v":6.18},{"t":90.6,"v":7.75},{"t":107.8,"v":9.4},{"t":123,"v":10.72},{"t":138,"v":11.79},{"t":155.3,"v":12.7},{"t":172.6,"v":13.06},{"t":187.7,"v":12.86},{"t":205,"v":12.28},{"t":220,"v":11.6}
],
"r2r":[
{"t":0,"v":5.35},{"t":28,"v":5.9},{"t":45.3,"v":6.51},{"t":64.7,"v":7.5},{"t":84.1,"v":8.57},{"t":101.4,"v":9.48},{"t":118.6,"v":10.3},{"t":133.7,"v":10.91},{"t":151,"v":11.13},{"t":166,"v":10.91},{"t":179,"v":10.39},{"t":192,"v":9.56},{"t":207,"v":8.4},{"t":220,"v":7.3}
]
},
"columns":2,
"spacing":{"row":316,"column":213},
"bounds":"flush",
"concat":[
{
"width":409,"height":305,
"view":{"stroke":"black","strokeWidth":2.5},
"title":{"text":"[zi:], next Vowel [i]","fontSize":34,"fontWeight":"bold","baseline":"alphabetic","offset":11,"frame":"group","anchor":"middle"},
"layer":[
{"data":{"name":"h1"},"mark":{"type":"rect","strokeWidth":0.8},
"encoding":{
"x":{"field":"t","type":"ordinal","axis":null,"scale":{"paddingInner":0,"paddingOuter":0}},
"y":{"field":"u","type":"ordinal","sort":"descending","scale":{"paddingInner":0,"paddingOuter":0},"axis":{"orient":"right","title":"fitted values, excl. random","labels":false,"ticks":false,"domain":false,"titleColor":"#808080","titleFontSize":25.5,"titleFontWeight":"normal","titleAngle":-90,"titleBaseline":"alphabetic","titleX":28}},
"fill":{"field":"v","type":"quantitative","legend":null,"scale":{"type":"linear","interpolate":"rgb","clamp":true,"zero":false,"nice":false,"domain":[3.4,4.55,5.7,6.85,8.0,8.05,9.07,10.1,11.1,12.1,12.15,14.2,16.2],"range":["#4C00FF","#0000FF","#004DFF","#0099FF","#00E5FF","#00FF4D","#00FF00","#4DFF00","#99FF00","#E6FF00","#FFFF00","#FFDE59","#FFE0B3"]}},
"stroke":{"field":"v","type":"quantitative","legend":null,"scale":{"type":"linear","interpolate":"rgb","clamp":true,"zero":false,"nice":false,"domain":[3.4,4.55,5.7,6.85,8.0,8.05,9.07,10.1,11.1,12.1,12.15,14.2,16.2],"range":["#4C00FF","#0000FF","#004DFF","#0099FF","#00E5FF","#00FF4D","#00FF00","#4DFF00","#99FF00","#E6FF00","#FFFF00","#FFDE59","#FFE0B3"]}}
}},
{"layer":[
{"data":{"name":"c1"},"mark":{"type":"line","color":"#FF0000","strokeWidth":1.75,"interpolate":"catmull-rom"},
"encoding":{
"x":{"field":"t","type":"quantitative","scale":{"domain":[0,220],"range":[6.81,402.2],"nice":false,"zero":false},"axis":{"values":[0,73.33,146.67,220],"labelExpr":"datum.value < 1 ? '0' : datum.value < 100 ? '73' : datum.value < 200 ? '148' : '220'","title":"Time","titleY":129,"titleBaseline":"alphabetic","labelBaseline":"alphabetic","labelPadding":46,"zindex":1}},
"y":{"field":"u","type":"quantitative","scale":{"domain":[0,3],"range":[299.9,5.1],"nice":false,"zero":false},"axis":{"orient":"left","values":[0,1,2,3],"labelExpr":"datum.value == 0 ? '0.2' : datum.value == 1 ? '0.32' : datum.value == 2 ? '0.5' : '0.8'","title":"Proportion of [i]","labelAngle":-90,"labelAlign":"center","labelBaseline":"alphabetic","labelPadding":26,"titleX":-110,"titleBaseline":"alphabetic","titleAngle":-90,"zindex":1}},
"detail":{"field":"g"},"order":{"field":"o"}}},
{"data":{"name":"l1"},"mark":{"type":"text","color":"#FF0000","fontSize":22,"align":"center","baseline":"middle"},
"encoding":{"x":{"field":"t","type":"quantitative","scale":{"domain":[0,220],"range":[6.81,402.2],"nice":false,"zero":false}},"y":{"field":"u","type":"quantitative","scale":{"domain":[0,3],"range":[299.9,5.1],"nice":false,"zero":false}},"text":{"field":"s"}}},
{"data":{"name":"d"},"mark":{"type":"line","color":"black","strokeWidth":1.75,"strokeDash":[7,7],"strokeCap":"round","interpolate":"monotone"},
"encoding":{"x":{"field":"t","type":"quantitative","scale":{"domain":[0,220],"range":[6.81,402.2],"nice":false,"zero":false}},"y":{"field":"u","type":"quantitative","scale":{"domain":[0,3],"range":[299.9,5.1],"nice":false,"zero":false}},"order":{"field":"o"}}},
{"data":{"name":"hr"},"mark":{"type":"rule","color":"#FF0000","strokeWidth":3.5,"strokeDash":[14,14],"strokeCap":"round"},
"encoding":{"y":{"field":"u","type":"quantitative","scale":{"domain":[0,3],"range":[299.9,5.1],"nice":false,"zero":false}}}},
{"data":{"name":"hn"},"mark":{"type":"rule","color":"#000080","strokeWidth":3.5},
"encoding":{"y":{"field":"u","type":"quantitative","scale":{"domain":[0,3],"range":[299.9,5.1],"nice":false,"zero":false}}}}
]}
],
"resolve":{"scale":{"x":"independent","y":"independent"}}
},
{
"width":408,"height":306,
"title":{"text":"TB position across time","fontSize":29,"fontWeight":"bold","baseline":"alphabetic","offset":31,"frame":"group","anchor":"middle"},
"layer":[
{"data":{"name":"r1b"},"mark":{"type":"line","color":"#00008B","strokeWidth":2,"interpolate":"monotone"},
"encoding":{
"x":{"field":"t","type":"quantitative","scale":{"domain":[0,220],"range":[15.3,393],"nice":false,"zero":false},"axis":{"values":[0,73.33,146.67,220],"labelExpr":"datum.value < 1 ? '0' : datum.value < 100 ? '73' : datum.value < 200 ? '148' : '220'","title":"Time","titleY":129,"titleBaseline":"alphabetic","labelBaseline":"alphabetic","labelPadding":46}},
"y":{"field":"v","type":"quantitative","scale":{"domain":[4,16],"range":[274.3,31.6],"nice":false,"zero":false},"axis":{"orient":"left","values":[4,6,8,10,12,14,16],"labelExpr":"datum.value == 10 || datum.value == 14 ? '' : datum.label","title":"Tongue body height","labelAngle":-90,"labelAlign":"center","labelBaseline":"alphabetic","labelPadding":24,"titleX":-109,"titleBaseline":"alphabetic","titleAngle":-90}}}},
{"data":{"name":"r1r"},"mark":{"type":"line","color":"#FF0000","strokeWidth":2,"strokeDash":[7,7],"strokeCap":"round","interpolate":"monotone"},
"encoding":{
"x":{"field":"t","type":"quantitative","scale":{"domain":[0,220],"range":[15.3,393],"nice":false,"zero":false}},
"y":{"field":"v","type":"quantitative","scale":{"domain":[4,16],"range":[274.3,31.6],"nice":false,"zero":false},"axis":{"orient":"right","title":"fitted values, excl. random","labels":false,"ticks":false,"domain":false,"titleColor":"#808080","titleFontSize":25.5,"titleFontWeight":"normal","titleAngle":-90,"titleBaseline":"alphabetic","titleX":29}}}}
],
"resolve":{"axis":{"y":"independent"}}
},
{
"width":409,"height":305,
"view":{"stroke":"black","strokeWidth":2.5},
"title":{"text":"[zi:], next Vowel [a]","fontSize":34,"fontWeight":"bold","baseline":"alphabetic","offset":11,"frame":"group","anchor":"middle"},
"layer":[
{"data":{"name":"h2"},"mark":{"type":"rect","strokeWidth":0.8},
"encoding":{
"x":{"field":"t","type":"ordinal","axis":null,"scale":{"paddingInner":0,"paddingOuter":0}},
"y":{"field":"u","type":"ordinal","sort":"descending","scale":{"paddingInner":0,"paddingOuter":0},"axis":{"orient":"right","title":"fitted values, excl. random","labels":false,"ticks":false,"domain":false,"titleColor":"#808080","titleFontSize":25.5,"titleFontWeight":"normal","titleAngle":-90,"titleBaseline":"alphabetic","titleX":28}},
"fill":{"field":"v","type":"quantitative","legend":null,"scale":{"type":"linear","interpolate":"rgb","clamp":true,"zero":false,"nice":false,"domain":[3.4,4.55,5.7,6.85,8.0,8.05,9.07,10.1,11.1,12.1,12.15,14.2,16.2],"range":["#4C00FF","#0000FF","#004DFF","#0099FF","#00E5FF","#00FF4D","#00FF00","#4DFF00","#99FF00","#E6FF00","#FFFF00","#FFDE59","#FFE0B3"]}},
"stroke":{"field":"v","type":"quantitative","legend":null,"scale":{"type":"linear","interpolate":"rgb","clamp":true,"zero":false,"nice":false,"domain":[3.4,4.55,5.7,6.85,8.0,8.05,9.07,10.1,11.1,12.1,12.15,14.2,16.2],"range":["#4C00FF","#0000FF","#004DFF","#0099FF","#00E5FF","#00FF4D","#00FF00","#4DFF00","#99FF00","#E6FF00","#FFFF00","#FFDE59","#FFE0B3"]}}
}},
{"layer":[
{"data":{"name":"c2"},"mark":{"type":"line","color":"#FF0000","strokeWidth":1.75,"interpolate":"catmull-rom"},
"encoding":{
"x":{"field":"t","type":"quantitative","scale":{"domain":[0,220],"range":[6.81,402.2],"nice":false,"zero":false},"axis":{"values":[0,73.33,146.67,220],"labelExpr":"datum.value < 1 ? '0' : datum.value < 100 ? '73' : datum.value < 200 ? '148' : '220'","title":"Time","titleY":129,"titleBaseline":"alphabetic","labelBaseline":"alphabetic","labelPadding":46,"zindex":1}},
"y":{"field":"u","type":"quantitative","scale":{"domain":[0,3],"range":[299.9,5.1],"nice":false,"zero":false},"axis":{"orient":"left","values":[0,1,2,3],"labelExpr":"datum.value == 0 ? '0.2' : datum.value == 1 ? '0.32' : datum.value == 2 ? '0.5' : '0.8'","title":"Proportion of [i]","labelAngle":-90,"labelAlign":"center","labelBaseline":"alphabetic","labelPadding":26,"titleX":-110,"titleBaseline":"alphabetic","titleAngle":-90,"zindex":1}},
"detail":{"field":"g"},"order":{"field":"o"}}},
{"data":{"name":"l2"},"mark":{"type":"text","color":"#FF0000","fontSize":22,"align":"center","baseline":"middle"},
"encoding":{"x":{"field":"t","type":"quantitative","scale":{"domain":[0,220],"range":[6.81,402.2],"nice":false,"zero":false}},"y":{"field":"u","type":"quantitative","scale":{"domain":[0,3],"range":[299.9,5.1],"nice":false,"zero":false}},"text":{"field":"s"}}},
{"data":{"name":"d"},"mark":{"type":"line","color":"black","strokeWidth":1.75,"strokeDash":[7,7],"strokeCap":"round","interpolate":"monotone"},
"encoding":{"x":{"field":"t","type":"quantitative","scale":{"domain":[0,220],"range":[6.81,402.2],"nice":false,"zero":false}},"y":{"field":"u","type":"quantitative","scale":{"domain":[0,3],"range":[299.9,5.1],"nice":false,"zero":false}},"order":{"field":"o"}}},
{"data":{"name":"hr"},"mark":{"type":"rule","color":"#FF0000","strokeWidth":3.5,"strokeDash":[14,14],"strokeCap":"round"},
"encoding":{"y":{"field":"u","type":"quantitative","scale":{"domain":[0,3],"range":[299.9,5.1],"nice":false,"zero":false}}}},
{"data":{"name":"hn"},"mark":{"type":"rule","color":"#000080","strokeWidth":3.5},
"encoding":{"y":{"field":"u","type":"quantitative","scale":{"domain":[0,3],"range":[299.9,5.1],"nice":false,"zero":false}}}}
]}
],
"resolve":{"scale":{"x":"independent","y":"independent"}}
},
{
"width":408,"height":306,
"title":{"text":"TB position across time","fontSize":29,"fontWeight":"bold","baseline":"alphabetic","offset":31,"frame":"group","anchor":"middle"},
"layer":[
{"data":{"name":"r2b"},"mark":{"type":"line","color":"#00008B","strokeWidth":2,"interpolate":"monotone"},
"encoding":{
"x":{"field":"t","type":"quantitative","scale":{"domain":[0,220],"range":[15.3,393],"nice":false,"zero":false},"axis":{"values":[0,73.33,146.67,220],"labelExpr":"datum.value < 1 ? '0' : datum.value < 100 ? '73' : datum.value < 200 ? '148' : '220'","title":"Time","titleY":129,"titleBaseline":"alphabetic","labelBaseline":"alphabetic","labelPadding":46}},
"y":{"field":"v","type":"quantitative","scale":{"domain":[4,16],"range":[274.3,31.6],"nice":false,"zero":false},"axis":{"orient":"left","values":[4,6,8,10,12,14,16],"labelExpr":"datum.value == 10 || datum.value == 14 ? '' : datum.label","title":"Tongue body height","labelAngle":-90,"labelAlign":"center","labelBaseline":"alphabetic","labelPadding":24,"titleX":-109,"titleBaseline":"alphabetic","titleAngle":-90}}}},
{"data":{"name":"r2r"},"mark":{"type":"line","color":"#FF0000","strokeWidth":2,"strokeDash":[7,7],"strokeCap":"round","interpolate":"monotone"},
"encoding":{
"x":{"field":"t","type":"quantitative","scale":{"domain":[0,220],"range":[15.3,393],"nice":false,"zero":false}},
"y":{"field":"v","type":"quantitative","scale":{"domain":[4,16],"range":[274.3,31.6],"nice":false,"zero":false},"axis":{"orient":"right","title":"fitted values, excl. random","labels":false,"ticks":false,"domain":false,"titleColor":"#808080","titleFontSize":25.5,"titleFontWeight":"normal","titleAngle":-90,"titleBaseline":"alphabetic","titleX":29}}}}
],
"resolve":{"axis":{"y":"independent"}}
}
]
}
